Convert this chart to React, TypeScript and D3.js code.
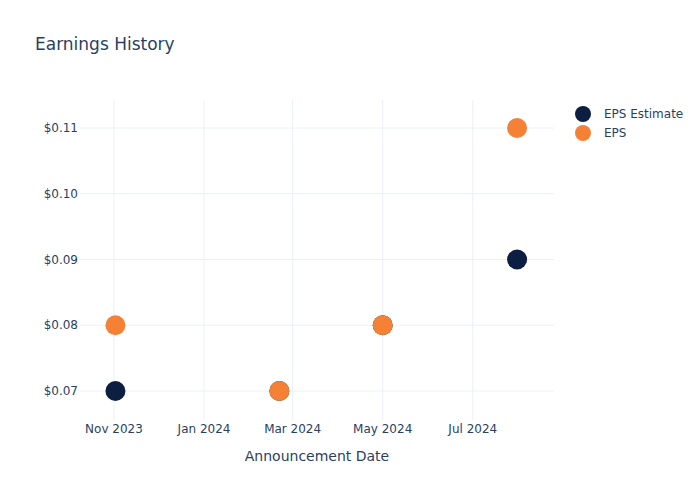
import React from "react";
import * as d3 from "d3";

const dates = ["2023-11-02", "2024-02-21", "2024-05-01", "2024-07-31"];
const epsEstimate = [0.07, 0.07, 0.08, 0.09];
const epsActual = [0.08, 0.07, 0.08, 0.11];
const yTicks = [0.07, 0.08, 0.09, 0.1, 0.11];
const xTicks = ["2023-11-01", "2024-01-01", "2024-03-01", "2024-05-01", "2024-07-01"];
const seriesNames = ["EPS Estimate", "EPS"];
const seriesColors = ["#0c1f40", "#f58137"];

const W = 700, H = 500;
const M = { l: 80, r: 146, t: 100, b: 80 };
const font = "'DejaVu Sans', Verdana, sans-serif";
const textColor = "#2a3f5f";
const gridColor = "#ebf0f8";

export default function App() {
  const parse = d3.utcParse("%Y-%m-%d");
  const x = d3
    .scaleUtc()
    .domain([parse("2023-10-09")!, parse("2024-08-25")!])
    .range([M.l, W - M.r]);
  const y = d3.scaleLinear().domain([0.06559, 0.11426]).range([H - M.b, M.t]);
  const fmtX = d3.utcFormat("%b %Y");
  const fmtY = (v: number) => "$" + v.toFixed(2);
  const series = [epsEstimate, epsActual];

  return (
    <svg width={W} height={H} style={{ position: "absolute", left: 0, top: 0, background: "#fff" }}>
      <text x={35} y={50} fontFamily={font} fontSize={17} fill={textColor}>
        Earnings History
      </text>
      {xTicks.map((t) => (
        <line key={t} x1={x(parse(t)!)} x2={x(parse(t)!)} y1={M.t} y2={H - M.b} stroke={gridColor} strokeWidth={1} />
      ))}
      {yTicks.map((t) => (
        <line key={t} x1={M.l} x2={W - M.r} y1={y(t)} y2={y(t)} stroke={gridColor} strokeWidth={1} />
      ))}
      {yTicks.map((t) => (
        <text key={t} x={M.l - 2} y={y(t)} dy="0.35em" textAnchor="end" fontFamily={font} fontSize={12} fill={textColor}>
          {fmtY(t)}
        </text>
      ))}
      {xTicks.map((t) => (
        <text key={t} x={x(parse(t)!)} y={H - M.b + 4} dy="0.71em" textAnchor="middle" fontFamily={font} fontSize={12} fill={textColor}>
          {fmtX(parse(t)!)}
        </text>
      ))}
      <text x={(M.l + W - M.r) / 2} y={461} textAnchor="middle" fontFamily={font} fontSize={14} fill={textColor}>
        Announcement Date
      </text>
      {series.map((s, si) =>
        s.map((v, i) => (
          <circle key={si + "-" + i} cx={x(parse(dates[i])!)} cy={y(v)} r={10} fill={seriesColors[si]} />
        ))
      )}
      {seriesNames.map((n, i) => (
        <g key={n} transform={`translate(583, ${114 + i * 19})`}>
          <circle r={8} fill={seriesColors[i]} />
          <text x={21} dy="0.35em" fontFamily={font} fontSize={12} fill={textColor}>
            {n}
          </text>
        </g>
      ))}
    </svg>
  );
}
